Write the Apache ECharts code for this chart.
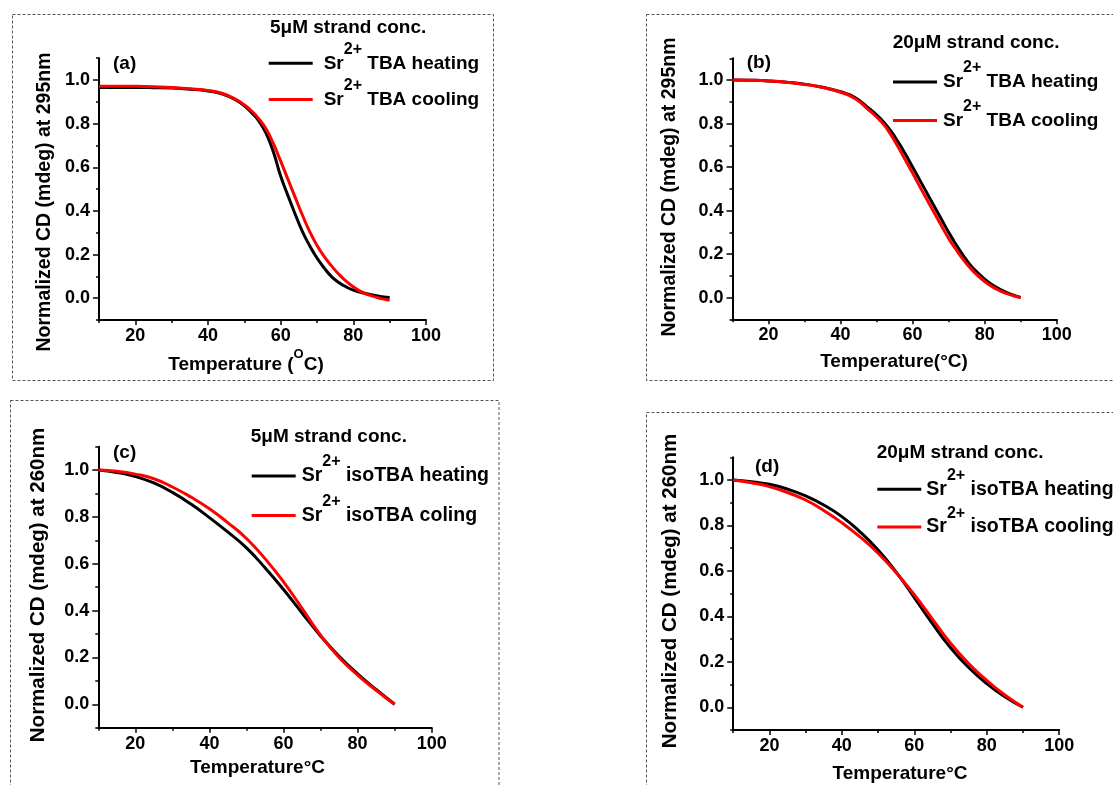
<!DOCTYPE html>
<html>
<head>
<meta charset="utf-8">
<script src="https://cdn.jsdelivr.net/npm/echarts@6/dist/echarts.min.js"></script>
<style>
  html, body { margin: 0; padding: 0; background: #fff; }
  #main { width: 1113px; height: 785px; }
</style>
</head>
<body>
<div id="main"></div>
<script>
// temperatures (°C) for the top panels and the bottom panels
var tempAB = [10, 15, 20, 25, 30, 35, 40, 44, 48, 50, 52, 54, 56, 58, 60, 62, 64, 66, 68, 70, 72, 74, 76, 78, 80, 82, 84, 86, 88, 90];
var tempCD = [10, 15, 20, 25, 30, 35, 40, 45, 50, 55, 60, 65, 70, 75, 80, 85, 90];

// (a) 5uM TBA at 295nm
var heatA = [0.966, 0.966, 0.966, 0.965, 0.963, 0.958, 0.950, 0.936, 0.905, 0.882, 0.85, 0.812, 0.755, 0.67, 0.56, 0.47, 0.385, 0.305, 0.24, 0.184, 0.138, 0.099, 0.072, 0.052, 0.037, 0.027, 0.019, 0.012, 0.007, 0.003];
var coolA = [0.972, 0.972, 0.971, 0.969, 0.966, 0.96, 0.952, 0.938, 0.908, 0.886, 0.858, 0.822, 0.775, 0.708, 0.628, 0.545, 0.462, 0.38, 0.305, 0.242, 0.19, 0.148, 0.11, 0.078, 0.052, 0.031, 0.016, 0.006, -0.003, -0.01];
// (b) 20uM TBA at 295nm
var heatB = [1.0, 0.999, 0.996, 0.99, 0.981, 0.967, 0.946, 0.92, 0.868, 0.84, 0.806, 0.765, 0.715, 0.66, 0.60, 0.54, 0.48, 0.42, 0.36, 0.30, 0.245, 0.195, 0.15, 0.115, 0.085, 0.06, 0.04, 0.024, 0.011, 0.0];
var coolB = [1.0, 0.999, 0.996, 0.99, 0.98, 0.966, 0.944, 0.915, 0.86, 0.83, 0.795, 0.748, 0.692, 0.632, 0.572, 0.51, 0.45, 0.39, 0.33, 0.272, 0.222, 0.176, 0.136, 0.102, 0.074, 0.051, 0.033, 0.019, 0.008, 0.0];
// (c) 5uM isoTBA at 260nm
var heatC = [1.0, 0.99, 0.973, 0.945, 0.905, 0.855, 0.797, 0.735, 0.668, 0.583, 0.49, 0.39, 0.292, 0.205, 0.13, 0.063, 0.0];
var coolC = [1.0, 0.995, 0.983, 0.963, 0.928, 0.885, 0.835, 0.775, 0.708, 0.622, 0.523, 0.41, 0.295, 0.2, 0.125, 0.06, 0.0];
// (d) 20uM isoTBA at 260nm
var heatD = [1.0, 0.993, 0.981, 0.96, 0.93, 0.89, 0.839, 0.772, 0.692, 0.595, 0.483, 0.368, 0.262, 0.175, 0.104, 0.046, 0.0];
var coolD = [1.0, 0.988, 0.971, 0.945, 0.912, 0.866, 0.812, 0.75, 0.678, 0.592, 0.495, 0.388, 0.282, 0.192, 0.118, 0.054, 0.0];

// tick labels
var xMajor = [20, 40, 60, 80, 100];
var xMinor = [10, 30, 50, 70, 90];
var yMajor = [0, 0.2, 0.4, 0.6, 0.8, 1.0];
var yMinor = [-0.1, 0.1, 0.3, 0.5, 0.7, 0.9, 1.1];

var FONT = '"Liberation Sans", Arial, sans-serif';

function pairs(xs, ys) {
  return xs.map(function (x, i) { return [x, ys[i]]; });
}

// one entry per panel: grid box, curves, legend
var panels = [
  { grid: { left: 99, top: 58.2, width: 327, height: 261.8 }, temps: tempAB, heat: heatA, cool: coolA,
    names: ['TBA heating', 'TBA cooling'], key: 'a',
    legend: { left: 268.7, top: 41.3, itemGap: 4.7, pad: 6, size: 19 } },
  { grid: { left: 732.5, top: 58.3, width: 324.2, height: 261 }, temps: tempAB, heat: heatB, cool: coolB,
    names: ['TBA heating', 'TBA cooling'], key: 'b',
    legend: { left: 893, top: 60, itemGap: 7, pad: 1, size: 19 } },
  { grid: { left: 98.3, top: 446.7, width: 333.4, height: 281 }, temps: tempCD, heat: heatC, cool: coolC,
    names: ['isoTBA heating', 'isoTBA coling'], key: 'c',
    legend: { left: 251.7, top: 454, itemGap: 7.5, pad: 1, size: 19.5 } },
  { grid: { left: 733.2, top: 457.3, width: 326, height: 272.7 }, temps: tempCD, heat: heatD, cool: coolD,
    names: ['isoTBA heating', 'isoTBA cooling'], key: 'd',
    legend: { left: 877.3, top: 467.3, itemGap: 5.8, pad: 0, size: 19.5 } }
];

var grids = [], xAxes = [], yAxes = [], series = [], legends = [];

panels.forEach(function (p, i) {
  grids.push(p.grid);
  var tickStyle = { color: '#000', width: 1.5 };
  // main axes: line, major ticks and labels
  xAxes.push({
    type: 'value', gridIndex: i, min: 10, max: 100, position: 'bottom',
    axisLine: { onZero: false, lineStyle: { color: '#000', width: 2 } },
    axisTick: { customValues: xMajor, length: 5, lineStyle: tickStyle },
    axisLabel: { customValues: xMajor, color: '#000', fontFamily: FONT, fontWeight: 'bold', fontSize: 18, margin: 7 },
    splitLine: { show: false }
  });
  // minor ticks
  xAxes.push({
    type: 'value', gridIndex: i, min: 10, max: 100, position: 'bottom',
    axisLine: { show: false, onZero: false },
    axisTick: { customValues: xMinor, length: 3, lineStyle: tickStyle },
    axisLabel: { show: false }, splitLine: { show: false }
  });
  yAxes.push({
    type: 'value', gridIndex: i, min: -0.1, max: 1.1, position: 'left',
    axisLine: { show: true, onZero: false, lineStyle: { color: '#000', width: 2 } },
    axisTick: { show: true, customValues: yMajor, length: 6, lineStyle: tickStyle },
    axisLabel: { customValues: yMajor, color: '#000', fontFamily: FONT, fontWeight: 'bold', fontSize: 18, margin: 9,
      formatter: function (v) { return Number(v).toFixed(1); } },
    splitLine: { show: false }
  });
  yAxes.push({
    type: 'value', gridIndex: i, min: -0.1, max: 1.1, position: 'left',
    axisLine: { show: false, onZero: false },
    axisTick: { show: true, customValues: yMinor, length: 3, lineStyle: tickStyle },
    axisLabel: { show: false }, splitLine: { show: false }
  });

  var idH = p.key + '-heat', idC = p.key + '-cool';
  [[idH, p.heat, '#000'], [idC, p.cool, '#ff0000']].forEach(function (s) {
    series.push({
      type: 'line', name: s[0], xAxisIndex: 2 * i, yAxisIndex: 2 * i,
      data: pairs(p.temps, s[1]), showSymbol: false, symbol: 'none',
      smooth: 0.5, color: s[2],
      lineStyle: { color: s[2], width: 3 }, itemStyle: { color: s[2] },
      animation: false
    });
  });

  var labelMap = {};
  labelMap[idH] = p.names[0];
  labelMap[idC] = p.names[1];
  legends.push({
    orient: 'vertical', left: p.legend.left, top: p.legend.top, padding: 0,
    itemGap: p.legend.itemGap, itemWidth: 44, itemHeight: 3, icon: 'rect',
    data: [idH, idC], selectedMode: false,
    formatter: function (name) {
      return '{p|}{m|Sr}{s|2+}{m| ' + labelMap[name] + '}';
    },
    textStyle: {
      color: '#000', fontFamily: FONT, fontWeight: 'bold', fontSize: p.legend.size,
      rich: {
        p: { width: p.legend.pad, lineHeight: 44 },
        m: { color: '#000', fontFamily: FONT, fontWeight: 'bold', fontSize: p.legend.size, lineHeight: 44, verticalAlign: 'middle' },
        s: { color: '#000', fontFamily: FONT, fontWeight: 'bold', fontSize: 16, lineHeight: 12, verticalAlign: 'top' }
      }
    }
  });
});

function txt(x, y, text, size, extra) {
  var o = {
    type: 'text', x: x, y: y, silent: true,
    style: { text: text, fill: '#000', font: 'bold ' + size + 'px ' + FONT, align: 'left', verticalAlign: 'middle' }
  };
  if (extra) {
    for (var k in extra) { if (k === 'style') { for (var s in extra.style) o.style[s] = extra.style[s]; } else o[k] = extra[k]; }
  }
  return o;
}

function ytitle(x, y, text, size) {
  return txt(x, y, text, size, { rotation: Math.PI / 2, style: { align: 'center' } });
}

function box(x, y, w, h) {
  return {
    type: 'rect', silent: true, shape: { x: x, y: y, width: w, height: h },
    style: { fill: 'none', stroke: '#555', lineWidth: 1, lineDash: [3, 2] }
  };
}

var richT = {
  t: { fill: '#000', fontFamily: FONT, fontWeight: 'bold', fontSize: 19, lineHeight: 34, verticalAlign: 'middle' },
  o: { fill: '#000', fontFamily: FONT, fontWeight: 'bold', fontSize: 13, lineHeight: 12, verticalAlign: 'top' }
};

var graphics = [
  box(12.5, 14.5, 481, 366),
  box(646.5, 14.5, 480, 366),
  box(10.5, 400.5, 488.5, 400),
  box(646.5, 412.5, 480, 400),

  txt(270, 28, '5\u03bcM strand conc.', 19),
  txt(892.7, 43, '20\u03bcM strand conc.', 19),
  txt(250.7, 436.7, '5\u03bcM strand conc.', 19),
  txt(876.7, 452.7, '20\u03bcM strand conc.', 19),

  txt(113, 64, '(a)', 19),
  txt(746.7, 63, '(b)', 19),
  txt(113, 453, '(c)', 19),
  txt(755, 467, '(d)', 19),

  ytitle(45, 202, 'Normalized CD (mdeg) at 295nm', 19.5),
  ytitle(670, 187, 'Normalized CD (mdeg) at 295nm', 19.5),
  ytitle(38.5, 585, 'Normalized CD (mdeg) at 260nm', 20.5),
  ytitle(670, 591, 'Normalized CD (mdeg) at 260nm', 20.5),

  txt(246, 365, '{t|Temperature (}{o|O}{t|C)}', 19, { style: { align: 'center', rich: richT } }),
  txt(894, 362, 'Temperature(\u00b0C)', 19, { style: { align: 'center' } }),
  txt(257.5, 768, 'Temperature\u00b0C', 19, { style: { align: 'center' } }),
  txt(900, 774, 'Temperature\u00b0C', 19, { style: { align: 'center' } })
];

var chart = echarts.init(document.getElementById('main'), null, { renderer: 'canvas' });
chart.setOption({
  backgroundColor: '#fff',
  animation: false,
  grid: grids,
  xAxis: xAxes,
  yAxis: yAxes,
  legend: legends,
  series: series,
  graphic: graphics
});
</script>
</body>
</html>
